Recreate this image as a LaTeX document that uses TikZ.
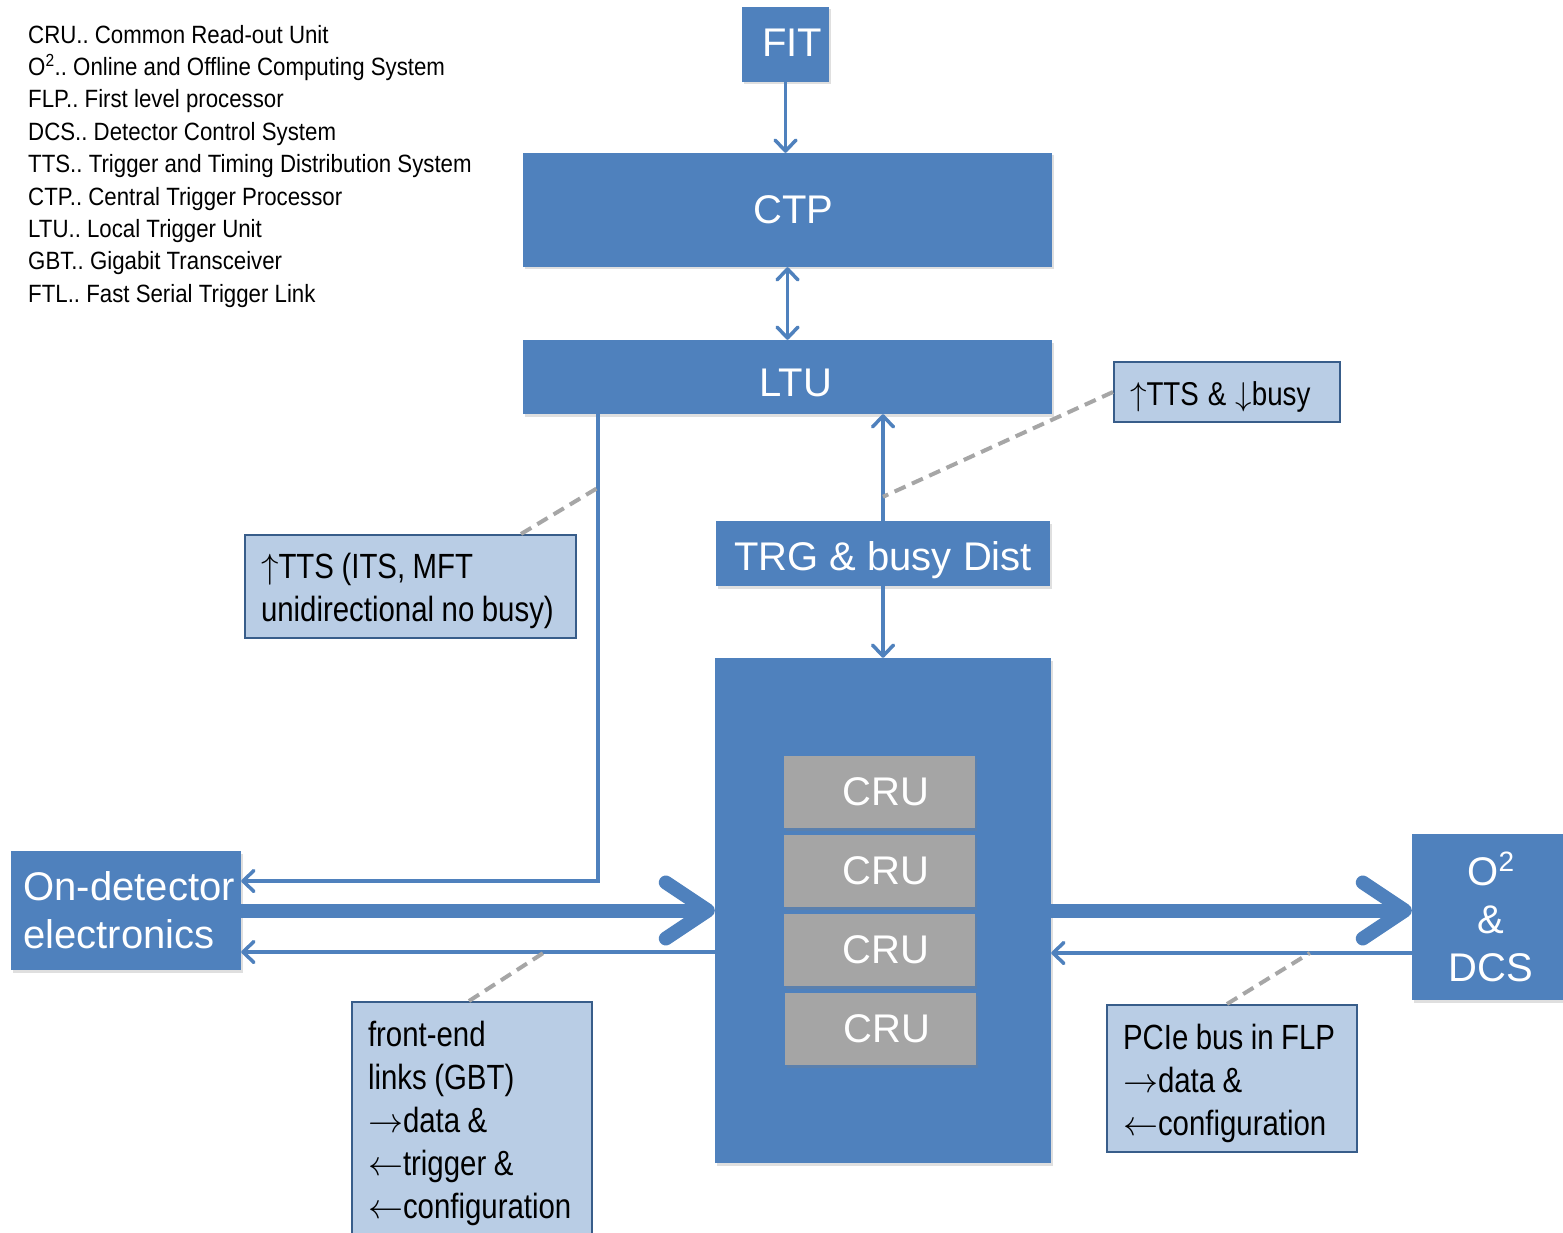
\documentclass[tikz,border=0pt]{standalone}
\usepackage{fontspec}
\setmainfont{Liberation Sans}
\newfontfamily\narrowfont[FakeStretch=0.84]{Liberation Sans}
\newfontfamily\legendfont[FakeStretch=0.89]{Liberation Sans}
% scalable symbol font so the arrows follow the text size
\DeclareFontShape{OMS}{cmsy}{m}{n}{<->cmsy10}{}
\frenchspacing
\usetikzlibrary{arrows.meta,shadows}

\definecolor{boxblue}{HTML}{4F81BD}
\definecolor{calloutfill}{HTML}{B9CDE5}
\definecolor{calloutline}{HTML}{385D8A}
\definecolor{crugray}{HTML}{A5A5A5}
\definecolor{leadergray}{HTML}{A6A6A6}

\newcommand{\firstline}[1]{\rule{0pt}{#1}}
\newcommand{\wordgap}[1]{\spaceskip #1\relax}

\tikzset{
  chevthin/.tip={Straight Barb[length=11pt,width=21pt,round]},
  chevthick/.tip={Straight Barb[length=42pt,width=56pt,round]},
  boxshadow/.style={drop shadow={opacity=0.25,shadow xshift=1.5pt,shadow yshift=-2.5pt}},
  bluebox/.style={rectangle, fill=boxblue, text=white, inner sep=0pt,
    font=\fontsize{40}{48}\selectfont, boxshadow},
  crubox/.style={rectangle, fill=crugray, text=white, inner sep=0pt,
    minimum width=191pt, minimum height=72pt, text height=26pt, text depth=0pt,
    font=\fontsize{40}{48}\selectfont, boxshadow},
  callout/.style={rectangle, fill=calloutfill, draw=calloutline, line width=2pt,
    inner xsep=16pt, inner ysep=0pt, align=left, text=black,
    font=\narrowfont\fontsize{35}{43}\selectfont},
  legendline/.style={anchor=base west, inner sep=0pt,
    font=\legendfont\fontsize{25}{30}\selectfont},
  thinarrow/.style={draw=boxblue, line width=3.5pt},
  thickarrow/.style={draw=boxblue, line width=14pt, -chevthick},
  leader/.style={draw=leadergray, line width=4pt, dash pattern=on 12pt off 7pt}
}

\begin{document}
\begin{tikzpicture}[x=1pt,y=-1pt]
\useasboundingbox (0,0) rectangle (1563,1233);
\fill[white] (0,0) rectangle (1563,1233);
\clip (0,0) rectangle (1563,1233);

% abbreviations
\node[legendline] (l1) at (28,44)     {CRU.. Common Read-out Unit};
\node[legendline] (l2) at (28,75.5)   {O\textsuperscript{2}.. Online and Offline Computing System};
\node[legendline] (l3) at (28,107.5)  {FLP.. First level processor};
\node[legendline] (l4) at (28,140.5)  {DCS.. Detector Control System};
\node[legendline] (l5) at (28,173)    {TTS.. Trigger and Timing Distribution System};
\node[legendline] (l6) at (28,205.5)  {CTP.. Central Trigger Processor};
\node[legendline] (l7) at (28,237.5)  {LTU.. Local Trigger Unit};
\node[legendline] (l8) at (28,269.75) {GBT.. Gigabit Transceiver};
\node[legendline] (l9) at (28,302)    {FTL.. Fast Serial Trigger Link};

% trigger chain
\node[bluebox, minimum width=87pt,  minimum height=75pt, text height=24.6pt, text depth=0pt]
  (fit) at (785.5,44.5) {\hspace*{13pt}FIT};
\node[bluebox, minimum width=529pt, minimum height=114pt, text height=26.6pt, text depth=0pt]
  (ctp) at (787.5,210) {\hspace*{12pt}CTP};
\node[bluebox, minimum width=529pt, minimum height=74pt, text height=38.6pt, text depth=0pt]
  (ltu) at (787.5,377) {\hspace*{17pt}LTU};
\node[bluebox, minimum width=334pt, minimum height=65pt, text height=33.6pt, text depth=0pt]
  (trg) at (883,553.5) {TRG \& busy Dist};

% FLP with CRUs
\node[bluebox, minimum width=336pt, minimum height=505pt] (flp) at (883,910.5) {};
\node[crubox] (cru1) at (879.5,792)  {\hspace*{13pt}CRU};
\node[crubox] (cru2) at (879.5,871)  {\hspace*{13pt}CRU};
\node[crubox] (cru3) at (879.5,950)  {\hspace*{13pt}CRU};
\node[crubox] (cru4) at (880.5,1029) {\hspace*{13pt}CRU};

% detector side and O2/DCS side
\node[bluebox, minimum width=230pt, minimum height=119pt, inner xsep=12.5pt,
      text width=205pt, align=left] (ondet) at (126,910.5)
  {\mbox{On-detector}\\electronics};
\node[bluebox, minimum width=158pt, minimum height=166pt, align=center] (o2) at (1491,917)
  {O\textsuperscript{2}\\\&\\DCS};

% callouts
\node[callout, minimum width=226pt, minimum height=60pt, text width=194pt,
      font=\narrowfont\fontsize{33}{40}\selectfont] (busy) at (1227,392)
  {\wordgap{9pt}\mbox{\firstline{34pt}$\uparrow$TTS \& $\downarrow$busy}};
\node[callout, minimum width=331pt, minimum height=103pt, text width=299pt] (its) at (410.5,586.5)
  {\wordgap{7.5pt}\mbox{\firstline{35pt}$\uparrow$TTS (ITS, MFT}\\\mbox{unidirectional no busy)}};
\node[callout, minimum width=240pt, minimum height=243pt, text width=208pt] (fe) at (472,1123.5)
  {\wordgap{7.5pt}\mbox{front-end}\\\mbox{links (GBT)}\\\mbox{$\rightarrow$data \&}\\\mbox{$\leftarrow$trigger \&}\\\mbox{$\leftarrow$configuration}};
\node[callout, minimum width=250pt, minimum height=147pt, text width=218pt] (pcie) at (1232,1078.5)
  {\wordgap{7.5pt}\mbox{\firstline{35pt}PCIe bus in FLP}\\\mbox{$\rightarrow$data \&}\\\mbox{$\leftarrow$configuration}};

% connectors
\draw[thinarrow, -chevthin] (fit.south) -- (fit.south |- ctp.north);
\draw[thinarrow, chevthin-chevthin] (ctp.south) -- (ltu.north);
\draw[thinarrow, -chevthin] (trg.north) -- (trg.north |- ltu.south);
\draw[thinarrow, -chevthin] (trg.south) -- (flp.north);
\draw[thinarrow, -chevthin] ([xshift=75pt]ltu.south west) |- ([yshift=29.5pt]ondet.east);
\draw[thickarrow] (ondet.east) -- (flp.west);
\draw[thinarrow, -chevthin] ([yshift=-41.5pt]flp.west) -- ([yshift=-41.5pt]ondet.east);
\draw[thickarrow] (flp.east) -- (flp.east -| o2.west);
\coordinate (rlow) at ([yshift=-42.5pt]flp.east);
\coordinate (rlowo) at (rlow -| o2.west);
\draw[thinarrow, -chevthin] (rlowo) -- (rlow);

% callout leaders
\draw[leader] (busy.west) -- ([yshift=24pt]trg.north);
\draw[leader] ([xshift=-56pt]its.north east) -- ([xshift=76pt,yshift=-73pt]ltu.south west);
\draw[leader] ([xshift=118pt]fe.north west) -- ([xshift=-170pt,yshift=-41.5pt]flp.west);
\draw[leader] ([xshift=121pt]pcie.north west) -- ([xshift=-102pt]rlowo);
\end{tikzpicture}
\end{document}
